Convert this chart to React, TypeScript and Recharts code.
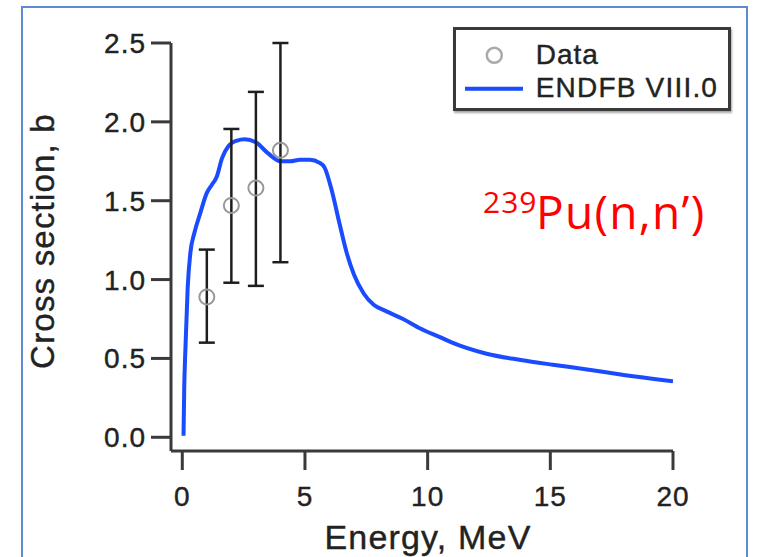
import React from 'react';
import { ComposedChart, Line, Scatter, XAxis, YAxis, ErrorBar, Legend } from 'recharts';

// ENDF/B-VIII.0 evaluated curve
const curveE = [0.05, 0.08, 0.12, 0.22, 0.33, 0.5, 0.73, 1.0, 1.2, 1.4, 1.62, 1.9, 2.2, 2.55, 3.0, 3.5, 4.0, 4.4, 4.8, 5.2, 5.6, 5.8, 6.1, 6.4, 6.7, 7.0, 7.4, 7.8, 8.3, 9.0, 9.7, 10.5, 11.0, 12.4, 13.8, 15.1, 16.5, 17.8, 20.0];
const curveSigma = [0.01, 0.32, 0.53, 0.95, 1.17, 1.3, 1.42, 1.55, 1.6, 1.65, 1.77, 1.85, 1.88, 1.89, 1.87, 1.8, 1.75, 1.75, 1.76, 1.76, 1.74, 1.71, 1.56, 1.36, 1.17, 1.03, 0.91, 0.84, 0.8, 0.75, 0.69, 0.635, 0.6, 0.53, 0.49, 0.46, 0.43, 0.4, 0.355];

// Measured data with asymmetric errors
const dataE = [1, 2, 3, 4];
const dataSigma = [0.89, 1.47, 1.58, 1.82];
const dataErrLow = [0.29, 0.49, 0.62, 0.71];
const dataErrHigh = [0.3, 0.485, 0.61, 0.68];

const xTicks = [0, 5, 10, 15, 20];
const yTicks = [0, 0.5, 1.0, 1.5, 2.0, 2.5];

const seriesNames = ['Data', 'ENDFB VIII.0'];

const curve = curveE.map((E, i) => ({ E, v: curveSigma[i] }));
const points = dataE.map((E, i) => ({ E, v: dataSigma[i], err: [dataErrLow[i], dataErrHigh[i]] }));

const BLUE = '#1a4bff';
const AXIS = '#3a3a3a';
const TEXT = '#222';
const FONT = '"Liberation Sans", Arial, Helvetica, sans-serif';

const tickStyle = { fontFamily: FONT, fontSize: 28, fill: TEXT, stroke: TEXT, strokeWidth: 0.4, letterSpacing: 1 };

const YLabel = () => (
  <text
    transform="translate(54,241) rotate(-90)"
    textAnchor="middle"
    fontFamily={FONT}
    fontSize={33}
    fill={TEXT}
    stroke={TEXT}
    strokeWidth={0.4}
    letterSpacing={1.2}
  >
    Cross section, b
  </text>
);

const XLabel = () => (
  <text x={428} y={549} textAnchor="middle" fontFamily={FONT} fontSize={34} fill={TEXT} stroke={TEXT} strokeWidth={0.4} letterSpacing={1.2}>
    Energy, MeV
  </text>
);

const renderLegend = () => (
  <div
    style={{
      width: 278,
      height: 84,
      boxSizing: 'border-box',
      border: `3px solid ${AXIS}`,
      background: '#fff',
      boxShadow: '1px 2px 2px rgba(0,0,0,0.35)',
    }}
  >
    <svg width={272} height={78} style={{ display: 'block' }}>
      <circle cx={38.3} cy={25.3} r={7.5} fill="none" stroke="#aaa" strokeWidth={2.5} />
      <text x={79.7} y={33.7} fontFamily={FONT} fontSize={28} fill={TEXT} stroke={TEXT} strokeWidth={0.4} letterSpacing={1}>
        {seriesNames[0]}
      </text>
      <line x1={9} x2={67} y1={58.7} y2={58.7} stroke={BLUE} strokeWidth={4} />
      <text x={79.7} y={67} fontFamily={FONT} fontSize={28} fill={TEXT} stroke={TEXT} strokeWidth={0.4} letterSpacing={1.2}>
        {seriesNames[1]}
      </text>
    </svg>
  </div>
);

const DataCircle = (props: any) => {
  const { cx, cy } = props;
  if (cx == null || cy == null) return null;
  return <circle cx={cx} cy={cy} r={7.5} fill="none" stroke="#999" strokeWidth={2} />;
};

export default function App() {
  return (
    <div style={{ position: 'fixed', left: 0, top: 0, width: 757, height: 557, overflow: 'hidden', background: '#fff' }}>
      <style>{`html,body{overflow:hidden;margin:0}`}</style>
      <div
        style={{
          position: 'absolute',
          left: 21,
          top: 6,
          width: 723,
          height: 570,
          border: '2px solid #5b8bd0',
        }}
      />
      <div style={{ position: 'absolute', left: 0, top: 0 }}>
        <ComposedChart width={757} height={557} margin={{ top: 43, right: 84, bottom: 0, left: 0 }}>
          <XAxis
            type="number"
            dataKey="E"
            domain={[-0.46, 20]}
            ticks={xTicks}
            allowDataOverflow
            height={106}
            axisLine={{ stroke: AXIS, strokeWidth: 3 }}
            tickLine={{ stroke: AXIS, strokeWidth: 3 }}
            tickSize={19}
            tickMargin={16}
            tick={tickStyle}
            label={<XLabel />}
          />
          <YAxis
            type="number"
            domain={[-0.087, 2.5]}
            ticks={yTicks}
            allowDataOverflow
            width={171}
            axisLine={{ stroke: AXIS, strokeWidth: 3 }}
            tickLine={{ stroke: AXIS, strokeWidth: 3 }}
            tickSize={20}
            tickMargin={5}
            tick={tickStyle}
            tickFormatter={(v: number) => v.toFixed(1)}
            label={<YLabel />}
          />
          <Legend
            layout="vertical"
            align="center"
            verticalAlign="middle"
            content={renderLegend}
            wrapperStyle={{ position: 'absolute', left: 453, top: 27, width: 278, height: 84 }}
          />
          <Line
            data={curve}
            dataKey="v"
            type="monotone"
            stroke={BLUE}
            strokeWidth={4}
            dot={false}
            activeDot={false}
            isAnimationActive={false}
            name={seriesNames[1]}
          />
          <Scatter data={points} dataKey="v" shape={<DataCircle />} isAnimationActive={false} name={seriesNames[0]}>
            <ErrorBar dataKey="err" direction="y" width={8} stroke="#1e1e1e" strokeWidth={2.5} isAnimationActive={false} />
          </Scatter>
        </ComposedChart>
      </div>
      <svg width={757} height={557} style={{ position: 'absolute', left: 0, top: 0, pointerEvents: 'none' }}>
        <text x={483} y={213} fontFamily='"Open Sans", "Noto Sans", sans-serif' fontSize={30} fill="#ff0000" letterSpacing={1}>
          239
        </text>
        <text x={536} y={229} fontFamily='"Open Sans", "Noto Sans", sans-serif' fontSize={46} fill="#ff0000" letterSpacing={1.3}>
          Pu(n,n’)
        </text>
      </svg>
    </div>
  );
}
